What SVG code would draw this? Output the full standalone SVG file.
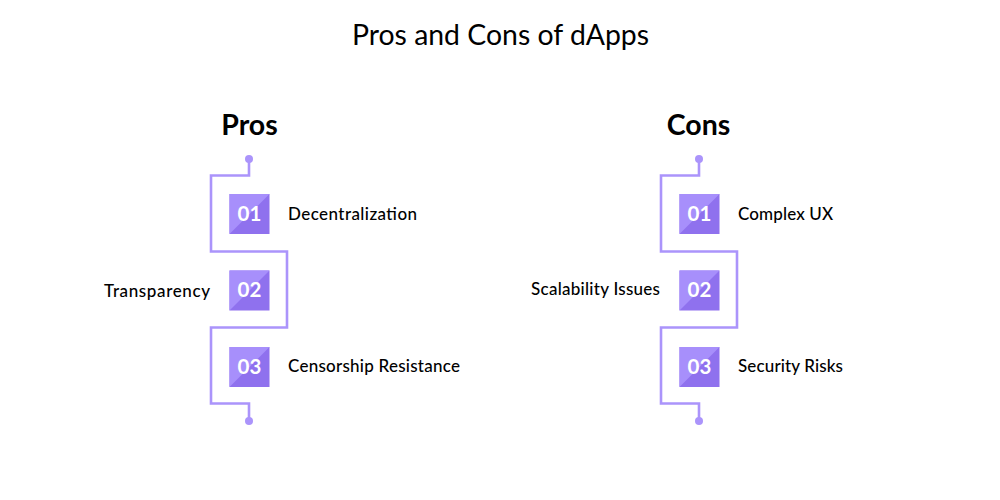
<svg xmlns="http://www.w3.org/2000/svg" width="1000" height="500" viewBox="0 0 1000 500">
<style>
text{font-family:"Lato","Liberation Sans",sans-serif;fill:#000}
.t{font-size:28.400px;text-anchor:middle}
.h{font-size:28.500px;font-weight:700;text-anchor:middle}
.l{font-size:17px;font-weight:500}
.n{font-size:20.500px;font-weight:700;text-anchor:middle;fill:#fff}
.w{fill:none;stroke:#ab94fb;stroke-width:2.600}
.d{fill:#ab94fb}
.a{fill:#a78ffb}
.b{fill:#8f71ee}
</style>
<text class="t" x="500.500" y="45">Pros and Cons of dApps</text>
<g id="connectors">
<path class="w" d="M249 159V175.500H211V251.500H287V327.500H211V403.500H249V421"/>
<path class="w" d="M699 159V175.500H661V251.500H737V327.500H661V403.500H699V421"/>
<circle class="d" cx="249" cy="159" r="4"/><circle class="d" cx="249" cy="421" r="4"/>
<circle class="d" cx="699" cy="159" r="4"/><circle class="d" cx="699" cy="421" r="4"/>
</g>
<g id="pros-title"><text class="h" x="249.500" y="135">Pros</text></g>
<g id="cons-title"><text class="h" x="698.500" y="135">Cons</text></g>
<g id="pros-1"><rect class="b" x="229.500" y="194" width="40" height="40"/><path class="a" d="M229.500 194h40l-40 40z"/><text class="n" x="249.500" y="221">01</text><text class="l" x="288" y="220" textLength="129">Decentralization</text></g>
<g id="pros-2"><rect class="b" x="229.500" y="270.500" width="40" height="40"/><path class="a" d="M229.500 270.500h40l-40 40z"/><text class="n" x="249.500" y="297">02</text><text class="l" x="104" y="297" textLength="106">Transparency</text></g>
<g id="pros-3"><rect class="b" x="229.500" y="347" width="40" height="40"/><path class="a" d="M229.500 347h40l-40 40z"/><text class="n" x="249.500" y="374">03</text><text class="l" x="288" y="372" textLength="172">Censorship Resistance</text></g>
<g id="cons-1"><rect class="b" x="679.500" y="194" width="40" height="40"/><path class="a" d="M679.500 194h40l-40 40z"/><text class="n" x="699.500" y="221">01</text><text class="l" x="738" y="220" textLength="95">Complex UX</text></g>
<g id="cons-2"><rect class="b" x="679.500" y="270.500" width="40" height="40"/><path class="a" d="M679.500 270.500h40l-40 40z"/><text class="n" x="699.500" y="297">02</text><text class="l" x="531" y="295" textLength="129">Scalability Issues</text></g>
<g id="cons-3"><rect class="b" x="679.500" y="347" width="40" height="40"/><path class="a" d="M679.500 347h40l-40 40z"/><text class="n" x="699.500" y="374">03</text><text class="l" x="738" y="372" textLength="105">Security Risks</text></g>
</svg>
